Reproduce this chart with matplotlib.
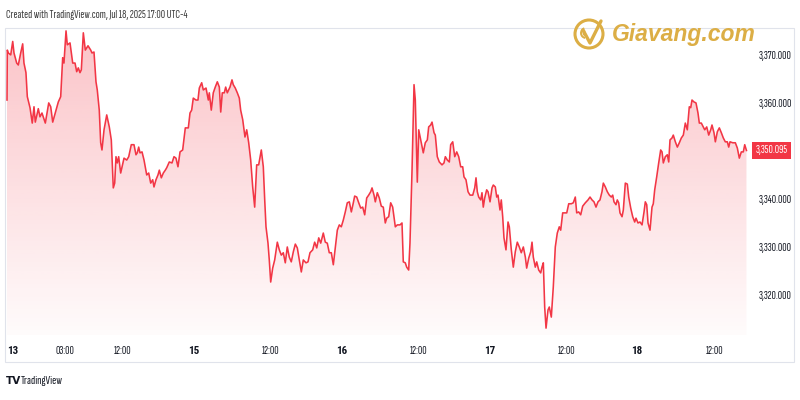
import numpy as np
import matplotlib
matplotlib.use("Agg")
import matplotlib.pyplot as plt
from matplotlib.patches import Polygon, Rectangle, Circle, Arc
from matplotlib.colors import LinearSegmentedColormap
from matplotlib.transforms import blended_transform_factory

# Gold spot, trading hours counted from Jul 13 18:00 (UTC-4)
hours = [0.0, 0.05, 0.2, 0.58, 0.89, 1.09, 1.51, 1.76, 2.13, 2.44, 2.64, 2.95, 3.16, 3.58, 3.93,
         4.2, 4.4, 4.87, 5.13, 5.44, 5.96, 6.49, 6.8, 7.11, 7.51, 7.98, 8.35, 8.66, 8.86, 9.18,
         9.38, 9.8, 10.22, 10.58, 10.84, 11.09, 11.35, 11.56, 11.87, 12.18, 12.6, 13.02, 13.22,
         13.53, 13.84, 14.04, 14.35, 14.57, 14.77, 15.09, 15.51, 15.91, 16.22, 16.53, 16.75,
         16.95, 17.15, 17.37, 17.68, 18.2, 18.62, 18.93, 19.33, 19.75, 20.06, 20.26, 20.48,
         20.68, 21.0, 21.31, 21.73, 22.04, 22.35, 22.66, 22.86, 23.17, 23.48, 23.69, 24.0,
         24.31, 24.62, 24.84, 25.24, 25.66, 25.97, 26.28, 26.59, 26.91, 27.32, 27.73, 28.2,
         28.46, 28.72, 28.97, 29.39, 29.7, 29.91, 30.28, 30.53, 30.95, 31.31, 31.46, 31.77,
         32.08, 32.39, 32.71, 33.02, 33.24, 33.48, 33.79, 34.01, 34.26, 34.68, 34.99, 35.19,
         35.5, 35.82, 36.13, 36.34, 36.66, 37.01, 37.28, 37.59, 37.9, 38.21, 38.52, 38.83,
         39.14, 39.55, 39.86, 40.08, 40.28, 40.59, 40.79, 41.01, 41.32, 41.63, 42.04, 42.35,
         42.66, 42.97, 43.28, 43.59, 43.9, 44.21, 44.53, 44.84, 45.15, 45.46, 45.77, 46.08,
         46.5, 46.81, 47.12, 47.54, 47.85, 48.17, 48.48, 48.79, 49.19, 49.5, 49.81, 50.12,
         50.44, 50.75, 51.06, 51.37, 51.68, 51.99, 52.3, 52.61, 52.92, 53.24, 53.55, 53.86,
         54.07, 54.39, 54.7, 55.01, 55.32, 55.63, 55.94, 56.25, 56.56, 56.77, 57.08, 57.28,
         57.59, 57.9, 58.21, 58.52, 58.83, 59.05, 59.36, 59.67, 59.98, 60.39, 60.7, 61.12,
         61.43, 61.63, 61.94, 62.16, 62.47, 62.67, 62.99, 63.3, 63.5, 63.81, 64.03, 64.34,
         64.74, 65.05, 65.37, 65.58, 65.89, 66.1, 66.41, 66.61, 66.92, 67.23, 67.65, 67.96,
         68.17, 68.48, 68.79, 69.0, 69.32, 69.63, 69.94, 70.25, 70.56, 70.87, 71.07, 71.38,
         71.7, 72.01, 72.43, 72.74, 72.94, 73.14, 73.36, 73.67, 73.87, 74.07, 74.29, 74.6,
         74.81, 75.12, 75.43, 75.63, 75.94, 76.16, 76.36, 76.67, 76.87, 77.09, 77.29, 77.6,
         77.92, 78.12, 78.43, 78.74, 79.05, 79.36, 79.67, 79.98, 80.3, 80.61, 80.82, 81.14,
         81.45, 81.65, 81.85, 82.16, 82.38, 82.69, 83.0, 83.2, 83.41, 83.62, 83.83, 84.14,
         84.34, 84.65, 84.96, 85.27, 85.58, 85.89, 86.11, 86.42, 86.73, 87.05, 87.36, 87.76,
         88.07, 88.38, 88.6, 88.91, 89.22, 89.53, 89.94, 90.36, 90.67, 90.98, 91.29, 91.6,
         91.91, 92.22, 92.53, 92.74, 93.05, 93.36, 93.67, 93.98, 94.2, 94.4, 94.71, 94.91,
         95.13, 95.33, 95.65, 95.85, 96.16, 96.47, 96.69, 97.0, 97.31, 97.62, 97.82, 98.13,
         98.44, 98.76, 99.07, 99.27, 99.49, 99.69, 100.0, 100.31, 100.51, 100.73, 101.04,
         101.35, 101.66, 101.87, 102.07, 102.38, 102.69, 102.91, 103.11, 103.42, 103.62,
         103.94, 104.25, 104.56, 104.87, 105.18, 105.49, 105.8, 106.11, 106.33, 106.53,
         106.84, 107.15, 107.46, 107.67, 107.98, 108.29, 108.51, 108.82, 109.13, 109.44,
         109.64, 109.95, 110.16, 110.47, 110.78, 111.09, 111.4, 111.71, 112.02, 112.24,
         112.44, 112.86, 113.27, 113.58, 113.89, 114.2, 114.51, 114.73, 115.0]
prices = [3360.6, 3371.0, 3370.4, 3370.0, 3372.8, 3370.4, 3368.3, 3367.9, 3370.4, 3372.3, 3368.3,
          3366.3, 3361.3, 3359.0, 3355.8, 3359.2, 3356.0, 3358.8, 3357.1, 3357.9, 3355.8, 3360.0,
          3359.2, 3356.0, 3357.9, 3360.2, 3361.3, 3369.4, 3368.3, 3375.0, 3372.1, 3372.5, 3368.3,
          3368.3, 3366.5, 3367.3, 3366.3, 3366.9, 3374.6, 3371.0, 3371.9, 3371.0, 3370.4, 3370.6,
          3364.4, 3362.7, 3358.5, 3351.7, 3350.2, 3354.4, 3357.5, 3355.0, 3352.3, 3342.3, 3343.3,
          3348.8, 3347.5, 3348.8, 3345.4, 3348.5, 3348.1, 3348.8, 3351.3, 3351.3, 3349.2, 3349.6,
          3350.8, 3349.6, 3349.8, 3348.1, 3345.0, 3345.4, 3343.3, 3344.0, 3342.5, 3344.0, 3345.0,
          3346.0, 3344.4, 3345.4, 3346.0, 3346.5, 3347.7, 3347.5, 3348.8, 3348.5, 3346.7, 3349.8,
          3350.2, 3354.8, 3354.8, 3357.9, 3358.5, 3361.0, 3360.6, 3360.6, 3363.1, 3364.2, 3362.7,
          3363.1, 3360.6, 3362.1, 3358.5, 3362.1, 3363.3, 3364.4, 3363.3, 3358.1, 3362.1, 3362.1,
          3363.3, 3362.1, 3363.3, 3364.8, 3363.8, 3363.1, 3362.1, 3361.0, 3358.5, 3356.5, 3352.9,
          3354.4, 3351.7, 3348.1, 3342.5, 3338.3, 3347.1, 3347.1, 3350.2, 3346.7, 3339.8, 3334.2,
          3330.8, 3327.3, 3322.7, 3325.6, 3327.3, 3331.0, 3329.4, 3328.3, 3328.8, 3326.7, 3330.0,
          3327.9, 3326.9, 3329.0, 3330.6, 3329.8, 3327.3, 3324.8, 3327.3, 3326.7, 3326.9, 3328.8,
          3329.4, 3331.0, 3329.8, 3331.9, 3330.8, 3332.9, 3331.0, 3330.8, 3328.8, 3328.8, 3326.3,
          3330.0, 3333.5, 3334.6, 3334.2, 3335.6, 3337.3, 3339.2, 3339.4, 3337.3, 3339.2, 3340.6,
          3340.4, 3339.2, 3338.1, 3338.3, 3336.7, 3340.2, 3340.8, 3341.5, 3342.3, 3340.8, 3339.4,
          3341.3, 3340.2, 3338.5, 3338.3, 3335.0, 3336.0, 3336.3, 3339.2, 3338.3, 3334.2, 3334.6,
          3334.6, 3335.0, 3326.9, 3326.7, 3325.8, 3325.2, 3330.8, 3346.0, 3363.8, 3360.6, 3343.5,
          3354.4, 3352.3, 3349.6, 3351.7, 3352.3, 3355.0, 3355.4, 3356.0, 3353.8, 3353.3, 3348.8,
          3347.7, 3347.1, 3347.5, 3348.8, 3348.1, 3347.7, 3351.3, 3351.9, 3348.8, 3349.8, 3348.8,
          3346.7, 3346.7, 3344.6, 3344.0, 3341.5, 3340.8, 3340.8, 3342.3, 3344.4, 3341.5, 3340.4,
          3339.8, 3341.3, 3338.3, 3340.2, 3341.9, 3341.5, 3339.4, 3342.3, 3342.9, 3342.5, 3340.4,
          3340.8, 3337.7, 3339.8, 3336.3, 3331.9, 3329.4, 3335.2, 3334.2, 3329.4, 3325.8, 3329.0,
          3331.0, 3330.0, 3328.8, 3330.0, 3327.9, 3325.6, 3327.7, 3329.0, 3331.0, 3327.9, 3325.8,
          3326.9, 3325.2, 3324.6, 3325.8, 3326.7, 3317.5, 3313.1, 3316.9, 3317.5, 3315.4, 3321.7,
          3330.0, 3332.9, 3334.2, 3333.5, 3337.1, 3337.1, 3337.1, 3339.0, 3339.0, 3339.2, 3340.4,
          3337.1, 3337.3, 3336.7, 3338.5, 3339.2, 3339.8, 3340.4, 3339.8, 3339.4, 3338.3, 3339.4,
          3339.8, 3341.5, 3343.3, 3342.5, 3341.5, 3340.8, 3340.4, 3340.8, 3339.4, 3338.8, 3339.8,
          3339.2, 3337.1, 3336.3, 3337.7, 3343.3, 3343.1, 3340.4, 3338.1, 3336.3, 3335.2, 3336.0,
          3335.0, 3335.2, 3334.6, 3337.3, 3339.4, 3338.8, 3335.0, 3333.5, 3338.3, 3339.0, 3341.9,
          3344.6, 3347.5, 3350.2, 3349.8, 3347.5, 3348.8, 3349.2, 3347.7, 3352.3, 3352.7, 3353.3,
          3351.9, 3350.8, 3351.7, 3352.7, 3353.3, 3355.8, 3354.4, 3359.2, 3359.0, 3360.6, 3360.2,
          3360.0, 3357.9, 3355.8, 3355.8, 3355.0, 3354.4, 3355.0, 3353.3, 3354.4, 3355.4, 3353.8,
          3351.9, 3354.0, 3354.8, 3353.8, 3352.7, 3351.9, 3351.9, 3350.8, 3351.9, 3351.7, 3351.7,
          3350.6, 3348.5, 3349.8, 3349.8, 3351.3, 3350.095]

tick_hours = [0, 9, 18, 29, 41, 52, 64, 75, 87, 98, 110]
tick_labels = ["13", "03:00", "12:00", "15", "12:00", "16", "12:00", "17", "12:00", "18", "12:00"]
price_ticks = [3320, 3330, 3340, 3360, 3370]
last_price = prices[-1]

red = "#f23645"
gold = "#dcae45"
plt.rcParams['font.family'] = ['Sofia Sans Extra Condensed', 'Roboto Condensed', 'DejaVu Sans']

fig = plt.figure(figsize=(8, 4), dpi=100)
ax = fig.add_axes([5 / 800, 65 / 400, 745 / 800, 307 / 400])
ax.set_xlim(-0.31, 115.55)
ax.set_ylim(3311.67, 3375.6)
ymin, ymax = ax.get_ylim()

# gradient area under the line
fade = LinearSegmentedColormap.from_list(
    "fade", [(242 / 255, 54 / 255, 69 / 255, 0.02), (242 / 255, 54 / 255, 69 / 255, 0.30)])
grad = np.linspace(0, 1, 256).reshape(-1, 1)
im = ax.imshow(grad, cmap=fade, origin="lower", aspect="auto",
               extent=[hours[0], hours[-1], ymin, max(prices)], zorder=1)
verts = [(hours[0], ymin)] + list(zip(hours, prices)) + [(hours[-1], ymin)]
clip = Polygon(verts, closed=True, facecolor="none", edgecolor="none")
ax.add_patch(clip)
im.set_clip_path(clip)
ax.set_xlim(-0.31, 115.55)
ax.set_ylim(3311.67, 3375.6)

ax.plot(hours, prices, color=red, lw=1.15, zorder=3)

for s in ax.spines.values():
    s.set_visible(False)
ax.yaxis.tick_right()
ax.set_yticks(price_ticks, [f"{v:,.3f}" for v in price_ticks])
ax.tick_params(axis="y", length=0, pad=6, labelsize=8.5, labelcolor="#131722")
ax.set_xticks(tick_hours, tick_labels)
ax.tick_params(axis="x", length=0, pad=8, labelsize=8.5, labelcolor="#131722")
for lab in ax.get_xticklabels():
    if ":" not in lab.get_text():
        lab.set_family(["Roboto Condensed", "DejaVu Sans"])
        lab.set_fontweight("bold")
        lab.set_fontsize(8)
ax.get_xticklabels()[0].set_horizontalalignment("left")

# last price tag
tr = blended_transform_factory(ax.transAxes, ax.transData)
ax.annotate(f"{last_price:,.3f}", xy=(1.0, last_price), xycoords=tr,
            xytext=(4, 0), textcoords="offset points", ha="left", va="center",
            fontsize=8.5, color="white", annotation_clip=False,
            bbox=dict(boxstyle="square,pad=0.3", fc=red, ec="none"))

# overlay in pixel units for frame, header and logos
ov = fig.add_axes([0, 0, 1, 1], zorder=5)
ov.set_xlim(0, 800)
ov.set_ylim(400, 0)
ov.set_axis_off()
ov.add_patch(Rectangle((5, 28), 789, 334, fill=False, ec="#e0e3eb", lw=0.8))
ov.text(6, 15, "Created with TradingView.com, Jul 18, 2025 17:00 UTC-4",
        fontsize=8.6, color="#3a3a3a", va="center", ha="left")

ov.add_patch(Circle((589, 34), 14, fill=False, ec=gold, lw=2.2))
ov.add_patch(Arc((586, 33), 10, 10, theta1=100, theta2=250, ec=gold, lw=1.4))
ov.add_patch(Arc((586, 33), 5, 5, theta1=100, theta2=250, ec=gold, lw=1.4))
ov.plot([583, 590, 601], [30, 43, 21], color=gold, lw=2.4, solid_capstyle="round")
ov.text(612, 34, "Giavang.com", fontsize=16.5, fontweight="bold", fontstyle="italic",
        family=["Liberation Sans", "DejaVu Sans"], color=gold, va="center", ha="left")

ov.text(6, 381, "TV", fontsize=7.5, fontweight="heavy", family=["DejaVu Sans"],
        color="#131722", va="center", ha="left")
ov.text(21, 381, "TradingView", fontsize=9, color="#131722", va="center", ha="left")

fig.savefig("out.png", dpi=100)
